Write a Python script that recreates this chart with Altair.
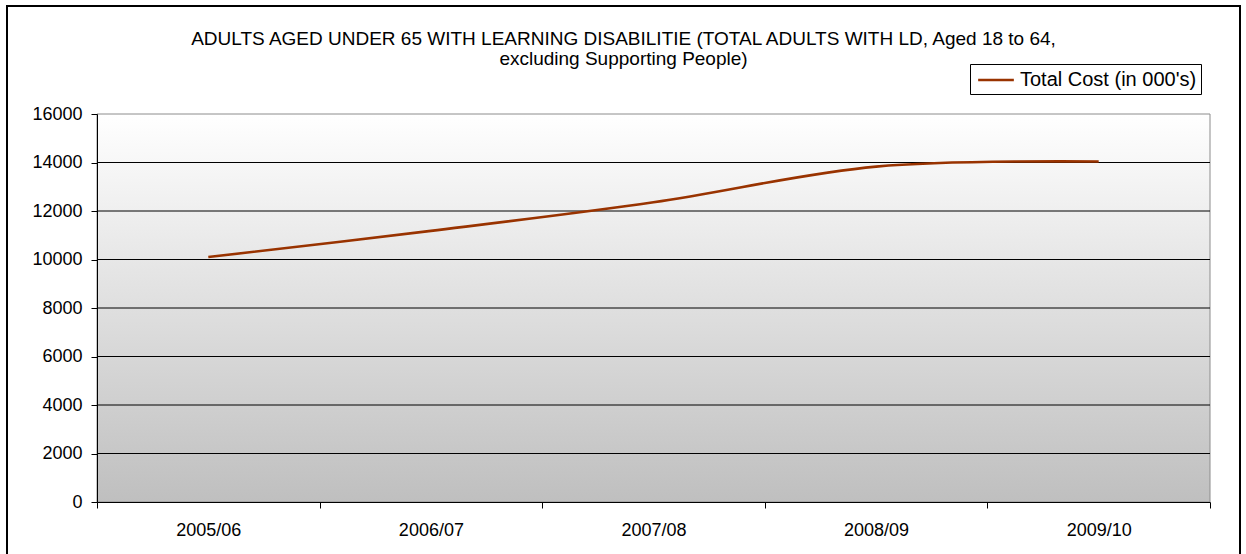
import altair as alt
import pandas as pd

# Annual totals (in thousands) for adults aged 18-64 with learning disabilities
years = ["2005/06", "2006/07", "2007/08", "2008/09", "2009/10"]
total_cost = [10100, 11180, 12360, 13830, 14040]
series_name = "Total Cost (in 000's)"
title_lines = [
    "ADULTS AGED UNDER 65 WITH LEARNING DISABILITIE (TOTAL ADULTS WITH LD, Aged 18 to 64,",
    "excluding Supporting People)",
]
y_ticks = [0, 2000, 4000, 6000, 8000, 10000, 12000, 14000, 16000]

W, H = 1113, 388
FONT = "Liberation Sans, Arial, sans-serif"
LINE_COLOR = "#993300"

df = pd.DataFrame({
    "year": years,
    "cost": total_cost,
    "series": [series_name] * len(years),
})
grid_df = pd.DataFrame({"cost": [t for t in y_ticks if 0 < t < 16000]})

y_scale = alt.Scale(domain=[0, 16000], nice=False)
y_axis = alt.Axis(
    title=None,
    values=y_ticks,
    format="d",
    tickSize=6,
    tickColor="black",
    domainColor="black",
    labelPadding=9,
    grid=False,
    zindex=1,
)

# Plot-area backdrop: white at the top fading to grey at the bottom
backdrop = alt.Chart(alt.Data(values=[{}])).mark_rect(
    color=alt.LinearGradient(
        gradient="linear",
        stops=[
            alt.GradientStop(color="#ffffff", offset=0),
            alt.GradientStop(color="#bfbfbf", offset=1),
        ],
        x1=0, x2=0, y1=0, y2=1,
    ),
    stroke="#8c8c8c",
    strokeWidth=1,
).encode(x=alt.value(0), x2=alt.value(W), y=alt.value(0), y2=alt.value(H))

# Horizontal gridlines
grid = alt.Chart(grid_df).mark_rule(color="black", strokeWidth=1).encode(
    y=alt.Y("cost:Q", scale=y_scale, axis=y_axis),
    x=alt.value(0),
    x2=alt.value(W),
)

line = alt.Chart(df).mark_line(
    interpolate="catmull-rom", strokeWidth=2.6
).encode(
    x=alt.X(
        "year:O",
        sort=years,
        bandPosition=0.5,
        scale=alt.Scale(type="band", paddingInner=0, paddingOuter=0),
        axis=alt.Axis(
            title=None,
            labelAngle=0,
            tickBand="extent",
            tickSize=6,
            tickColor="black",
            domainColor="black",
            labelPadding=13,
            grid=False,
            zindex=1,
        ),
    ),
    y=alt.Y("cost:Q", scale=y_scale, axis=y_axis),
    color=alt.Color(
        "series:N",
        scale=alt.Scale(range=[LINE_COLOR]),
        legend=alt.Legend(
            title=None,
            orient="none",
            legendX=873,
            legendY=-50,
            symbolType="M-1.7,0H1.7",
            symbolSize=441,
            symbolOffset=10,
            symbolStrokeWidth=2.6,
            symbolFillColor=LINE_COLOR,
            labelFont=FONT,
            labelFontSize=20,
            labelColor="black",
            labelOffset=12,
            labelLimit=0,
            strokeColor="black",
            fillColor="white",
            padding=4,
        ),
    ),
)

# Outer chart frame
frame = alt.Chart(alt.Data(values=[{}])).mark_rect(
    filled=False, stroke="black", strokeWidth=2
).encode(
    x=alt.value(-90), x2=alt.value(1143), y=alt.value(-108), y2=alt.value(450)
)

chart = alt.layer(backdrop, grid, line, frame).properties(
    width=W,
    height=H,
    autosize=alt.AutoSizeParams(type="none"),
    padding={"left": 97, "top": 114, "right": 36, "bottom": 52},
    title=alt.TitleParams(
        text=title_lines,
        anchor="middle",
        baseline="bottom",
        font=FONT,
        fontSize=19,
        fontWeight="normal",
        color="black",
        lineHeight=20,
        offset=-83,
        dx=-30,
    ),
).configure(
    background="white",
).configure_view(
    stroke=None,
).configure_axis(
    labelFont=FONT,
    labelFontSize=18,
    labelColor="black",
)

chart.save("out.html", embed_options={"renderer": "svg", "actions": False})
